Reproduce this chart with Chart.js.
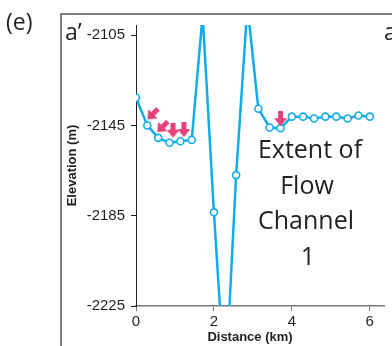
<!DOCTYPE html>
<html>
<head>
<meta charset="utf-8">
<script src="https://cdn.jsdelivr.net/npm/chart.js@4.4.1/dist/chart.umd.min.js"></script>
<style>
  html, body { margin: 0; padding: 0; background: #fff; }
  #wrap { position: relative; width: 392px; height: 346px; overflow: hidden; }
</style>
</head>
<body>
<div id="wrap"><canvas id="profile" width="392" height="346"></canvas></div>
<script>
// profile a' - a, distance along track (km) and seafloor elevation (m)
const distanceKm = [0, 0.29, 0.57, 0.86, 1.14, 1.43, 1.71, 2.0, 2.29, 2.57, 2.86,
  3.14, 3.43, 3.71, 4.0, 4.29, 4.57, 4.86, 5.14, 5.43, 5.71, 6.0];
const elevationM = [-2132.7, -2145, -2150.5, -2152.7, -2152, -2151.4, -2096, -2183.5, -2262, -2167, -2092,
  -2137.6, -2145.9, -2146.2, -2141.1, -2141.1, -2141.9, -2141.1, -2141.1, -2141.9, -2140.6, -2141.1];

// red arrows marking the flow channel
const arrowX = [0.43, 0.68, 0.95, 1.23, 3.71];
const arrowY = [-2140, -2145.6, -2147.1, -2146.8, -2142];
const arrowAngle = [45, 45, 0, 0, 0];

const xTicks = [0, 2, 4, 6];
const yTicks = [-2105, -2145, -2185, -2225];

const blue = '#12ade8';
const pink = '#e8407a';

// small down-pointing arrow used as a point style
function makeArrow() {
  const c = document.createElement('canvas');
  c.width = 13; c.height = 15;
  const g = c.getContext('2d');
  g.fillStyle = pink;
  g.fillRect(4, 0, 5, 8);
  g.beginPath();
  g.moveTo(0, 7);
  g.lineTo(13, 7);
  g.lineTo(6.5, 15);
  g.closePath();
  g.fill();
  return c;
}

const decorations = {
  id: 'decorations',
  afterDraw(chart) {
    const ctx = chart.ctx;
    ctx.save();
    // panel frame
    ctx.strokeStyle = '#555';
    ctx.lineWidth = 1.5;
    ctx.beginPath();
    ctx.moveTo(61, 346);
    ctx.lineTo(61, 14);
    ctx.lineTo(392, 14);
    ctx.stroke();

    ctx.fillStyle = '#231f20';
    ctx.textBaseline = 'alphabetic';
    ctx.font = '23px "Open Sans"';
    ctx.textAlign = 'left';
    ctx.fillText('(e)', 6, 30);
    ctx.fillText('a\u2019', 65, 40);
    ctx.fillText('a', 384, 40);

    ctx.font = '25px "Open Sans"';
    ctx.textAlign = 'center';
    ctx.fillText('Extent of', 310, 158);
    ctx.fillText('Flow', 307, 194);
    ctx.fillText('Channel', 306, 229);
    ctx.fillText('1', 308, 265);

    ctx.font = 'bold 13px "Liberation Sans"';
    ctx.fillText('Distance (km)', 250, 341);
    ctx.restore();
  }
};

new Chart(document.getElementById('profile'), {
  type: 'scatter',
  data: {
    datasets: [
      {
        label: 'arrows',
        data: arrowX.map((x, i) => ({ x, y: arrowY[i] })),
        pointStyle: makeArrow(),
        rotation: arrowAngle,
        pointRadius: 7,
        showLine: false
      },
      {
        label: 'elevation',
        data: distanceKm.map((x, i) => ({ x, y: elevationM[i] })),
        showLine: true,
        borderColor: blue,
        borderWidth: 2.5,
        pointRadius: 3.5,
        pointBorderWidth: 1.6,
        pointBackgroundColor: '#fff',
        pointBorderColor: blue,
        tension: 0
      }
    ]
  },
  options: {
    responsive: false,
    animation: false,
    devicePixelRatio: 1,
    layout: { padding: { top: 25, left: 0, right: 0, bottom: 0 } },
    plugins: { legend: { display: false }, tooltip: { enabled: false } },
    scales: {
      x: {
        type: 'linear',
        min: 0,
        max: 6.365,
        afterBuildTicks: s => { s.ticks = xTicks.map(v => ({ value: v })); },
        afterFit: s => { s.height = 40; },
        border: { display: true, color: '#777', width: 1.5 },
        grid: { drawOnChartArea: false, drawTicks: true, tickLength: 5, color: '#777' },
        ticks: { color: '#231f20', padding: 2, maxRotation: 0, callback: v => String(v),
          font: { family: 'Liberation Sans', size: 15 } }
      },
      y: {
        type: 'linear',
        min: -2225,
        max: -2100.5,
        afterBuildTicks: s => { s.ticks = yTicks.map(v => ({ value: v })); },
        afterFit: s => { s.width = 136; },
        border: { display: true, color: '#231f20', width: 1 },
        grid: { drawOnChartArea: false, drawTicks: true, tickLength: 5, color: '#231f20' },
        ticks: { color: '#231f20', padding: 6, callback: v => String(v),
          font: { family: 'Liberation Sans', size: 15 } },
        title: {
          display: true,
          text: 'Elevation (m)',
          color: '#231f20',
          padding: { top: 65, bottom: 0 },
          font: { family: 'Liberation Sans', size: 13, weight: 'bold' }
        }
      }
    }
  },
  plugins: [decorations]
});
</script>
</body>
</html>
